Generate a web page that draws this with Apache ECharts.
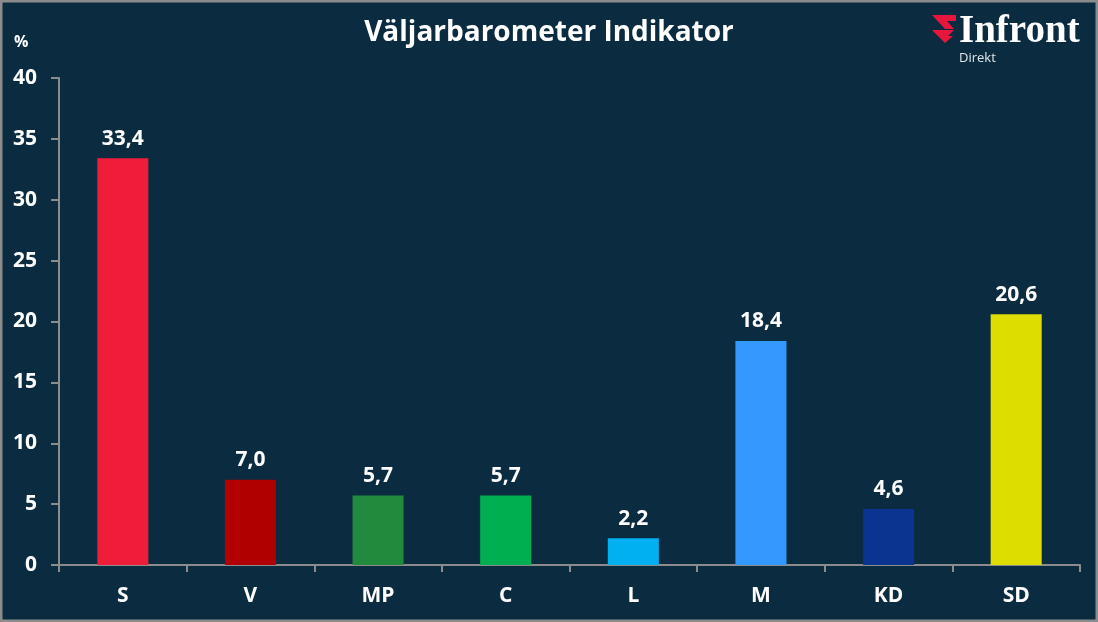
<!DOCTYPE html>
<html><head><meta charset="utf-8">
<script src="https://cdn.jsdelivr.net/npm/echarts@6/dist/echarts.min.js"></script>
<style>html,body{margin:0;padding:0;background:#0b2c40}#c{width:1098px;height:622px}</style>
</head><body><div id="c"></div>
<script>
const categories = ['S','V','MP','C','L','M','KD','SD'];
const values = [33.4,7.0,5.7,5.7,2.2,18.4,4.6,20.6];
const colors = ['#ef1c3a','#b00000','#218a3c','#00b050','#00b0f0','#3399ff','#0b3390','#dddd00'];
const yTicks = [0,5,10,15,20,25,30,35,40];
const chart = echarts.init(document.getElementById('c'));
const font = '"Open Sans", "DejaVu Sans", sans-serif';
chart.setOption({
  backgroundColor:'#0b2c40',
  animation:false,
  title:{text:'Väljarbarometer Indikator',left:'center',top:14,textStyle:{color:'#fff',fontSize:28,fontWeight:'bold',fontFamily:font}},
  grid:{left:59,right:18,top:78,bottom:57},
  xAxis:{type:'category',data:categories,
    axisLine:{lineStyle:{color:'#8c8c8c',width:2}},
    axisTick:{show:true,length:7,alignWithLabel:false,lineStyle:{color:'#8c8c8c',width:2}},
    axisLabel:{color:'#fff',fontSize:21,fontWeight:'bold',fontFamily:font,margin:21}},
  yAxis:{type:'value',min:yTicks[0],max:yTicks[yTicks.length-1],interval:5,
    splitLine:{show:false},
    axisLine:{show:true,lineStyle:{color:'#8c8c8c',width:2}},
    axisTick:{show:true,length:8,lineStyle:{color:'#8c8c8c',width:2}},
    axisLabel:{color:'#fff',fontSize:21,fontWeight:'bold',fontFamily:font,margin:22}},
  series:[{type:'bar',barWidth:'40%',
    data:values.map((v,i)=>({value:v,itemStyle:{color:colors[i]}})),
    label:{show:true,position:'top',distance:9,color:'#fff',fontSize:21,fontWeight:'bold',fontFamily:font,
      formatter:p=>p.value.toFixed(1).replace('.',',')}}],
  graphic:[
    {type:'text',left:14,top:34,style:{text:'%',fill:'#fff',font:'bold 16px '+font}},
    {type:'polygon',shape:{points:[[932,15],[956,15],[956,21],[947,21],[954,29],[945,29]]},style:{fill:'#e8163c'}},
    {type:'polygon',shape:{points:[[932,30],[954,30],[948,36],[953,36],[945,43]]},style:{fill:'#e8163c'}},
    {type:'text',left:959,top:12,style:{text:'Infront',fill:'#fff',font:'bold 39px "Liberation Serif", "DejaVu Serif", serif'}},
    {type:'text',left:959,top:52,style:{text:'Direkt',fill:'#dfe6ea',font:'13px '+font}},
    {type:'rect',shape:{x:1,y:1,width:1096,height:620},style:{fill:'none',stroke:'#8c8c8c',lineWidth:3}}
  ]
});
</script></body></html>
